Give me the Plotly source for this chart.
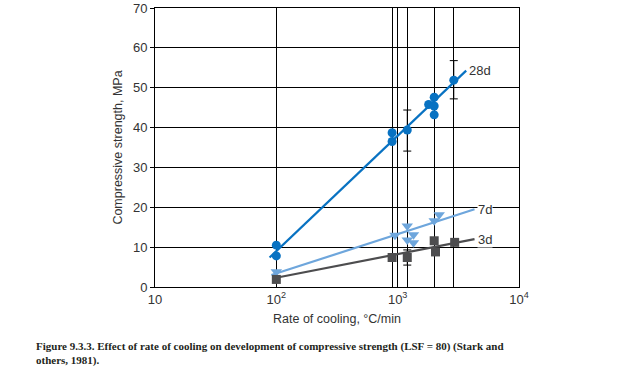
import numpy as np
import plotly.graph_objects as go

# 28 day data (circles)
x28 = [100, 100, 900, 900, 1200, 1800, 2000, 2000, 2000, 2900]
y28 = [10.5, 7.8, 38.7, 36.5, 39.4, 45.8, 47.6, 45.4, 43.2, 51.9]
fit28_x = [88, 3670]
fit28_y = [7.4, 54.3]

# 7 day data (down triangles)
x7 = [100, 950, 1200, 1200, 1350, 1350, 2000, 2200]
y7 = [3.8, 13.0, 15.3, 11.8, 13.1, 11.1, 16.6, 18.1]
fit7_x = [91, 4300]
fit7_y = [3.0, 19.5]

# 3 day data (squares)
x3 = [100, 900, 1200, 2000, 2050, 2950]
y3 = [1.9, 7.4, 7.4, 11.6, 8.8, 11.2]
fit3_x = [95, 4300]
fit3_y = [2.2, 12.0]

# error ranges
err_x = [1200, 2900, 1200]
err_lo = [34.1, 47.2, 5.5]
err_hi = [44.4, 56.8, 9.3]

grid_x = [900, 1200, 2000, 2900]
xtick_vals = [10, 100, 1000, 10000]
xtick_text = ["10", "10<sup>2</sup>", "10<sup>3</sup>", "10<sup>4</sup>"]

c28 = "#0872C2"
c7 = "#6EA6DC"
c3 = "#4D4D4F"

fig = go.Figure()

err_c = [(lo + hi) / 2 for lo, hi in zip(err_lo, err_hi)]
fig.add_trace(go.Scatter(
    x=err_x, y=err_c, mode="markers",
    marker=dict(size=1, color="rgba(0,0,0,0)"),
    error_y=dict(type="data", symmetric=False,
                 array=[h - c for h, c in zip(err_hi, err_c)],
                 arrayminus=[c - l for l, c in zip(err_lo, err_c)],
                 color="black", thickness=1, width=4),
    showlegend=False, hoverinfo="skip"))

fig.add_trace(go.Scatter(x=fit28_x, y=fit28_y, mode="lines",
                         line=dict(color=c28, width=2.2), showlegend=False))
fig.add_trace(go.Scatter(x=fit7_x, y=fit7_y, mode="lines",
                         line=dict(color=c7, width=2.2), showlegend=False))
fig.add_trace(go.Scatter(x=fit3_x, y=fit3_y, mode="lines",
                         line=dict(color=c3, width=2.2), showlegend=False))

fig.add_trace(go.Scatter(x=x28, y=y28, mode="markers",
                         marker=dict(symbol="circle", size=9, color=c28),
                         showlegend=False))
fig.add_trace(go.Scatter(x=x7, y=y7, mode="markers",
                         marker=dict(symbol="triangle-down", size=10, color=c7),
                         showlegend=False))
fig.add_trace(go.Scatter(x=x3, y=y3, mode="markers",
                         marker=dict(symbol="square", size=9, color=c3),
                         showlegend=False))

labels = [("28d", fit28_x[1], fit28_y[1]), ("7d", fit7_x[1], fit7_y[1]), ("3d", fit3_x[1], fit3_y[1])]
for txt, lx, ly in labels:
    fig.add_annotation(x=np.log10(lx), y=ly, text=txt, showarrow=False,
                       xanchor="left", yanchor="middle", xshift=2,
                       font=dict(family="Liberation Sans, Arial", size=13, color="#333333"),
                       bgcolor="white", borderpad=0)

fig.add_annotation(xref="paper", yref="paper", x=-0.333, y=-0.183, xanchor="left", yanchor="top",
                   text="<b>Figure 9.3.3. Effect of rate of cooling on development of compressive strength (LSF = 80) (Stark and<br>others, 1981).</b>",
                   showarrow=False, align="left",
                   font=dict(family="Liberation Serif, Times New Roman", size=11, color="#231F20"))

fig.update_layout(
    template="none",
    width=634, height=388,
    margin=dict(l=155, r=115, t=8, b=101),
    paper_bgcolor="white", plot_bgcolor="white",
    font=dict(family="Liberation Sans, Arial", size=12, color="#333333"),
    xaxis=dict(type="log", range=[1, 4], tickvals=xtick_vals, ticktext=xtick_text,
               automargin=False,
               showgrid=True, gridcolor="black", gridwidth=1,
               showline=True, linecolor="black", linewidth=1, mirror=True,
               ticks="", zeroline=False,
               minor=dict(tickvals=grid_x, showgrid=True, gridcolor="black", gridwidth=1, ticks=""),
               title=dict(text="Rate of cooling, °C/min", font=dict(size=12.5), standoff=8),
               tickfont=dict(size=13)),
    yaxis=dict(range=[0, 70], dtick=10, showgrid=True, gridcolor="black", gridwidth=1,
               automargin=False,
               showline=True, linecolor="black", linewidth=1, mirror=True,
               ticks="outside", ticklen=4, tickcolor="black", zeroline=False,
               title=dict(text="Compressive strength, MPa", font=dict(size=12.5), standoff=7),
               tickfont=dict(size=13)),
)

fig.write_html("out.html", config={"displayModeBar": False},
               post_script="document.body.style.margin='0';")
